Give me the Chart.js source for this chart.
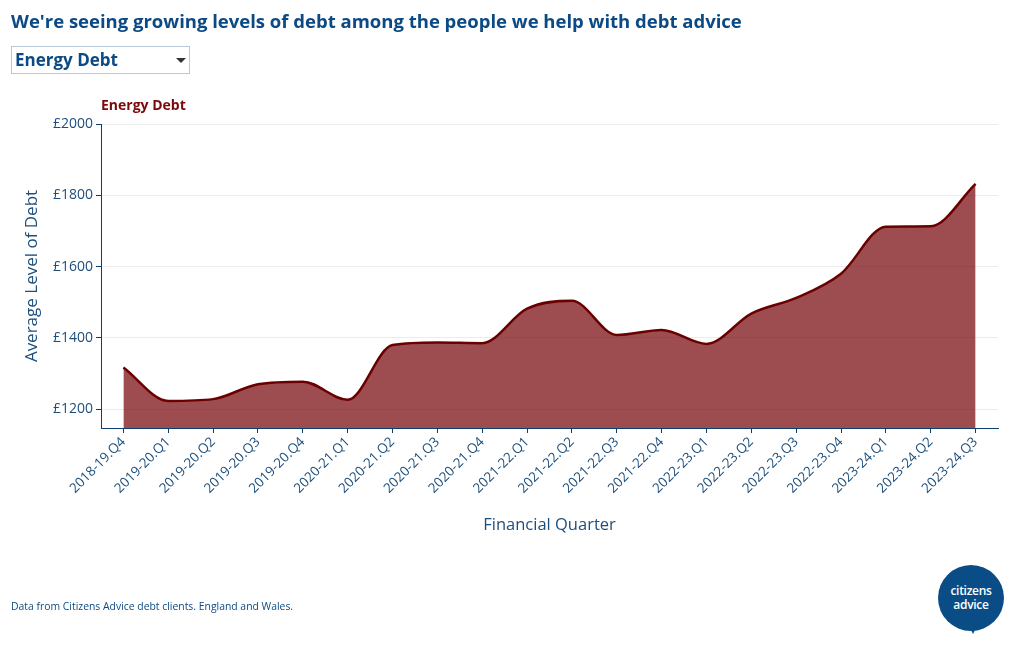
<!DOCTYPE html>
<html>
<head>
<meta charset="utf-8">
<script src="https://cdn.jsdelivr.net/npm/chart.js@4"></script>
<style>
  body { margin: 0; background: #fff; font-family: "Open Sans", sans-serif; }
  #wrap { position: relative; width: 1020px; height: 650px; overflow: hidden; }
  #title { position: absolute; left: 11px; top: 8px; font-size: 18.5px; font-weight: 700; color: #0b4a84; white-space: nowrap; }
  #dropdown { position: absolute; left: 11px; top: 46px; width: 177px; height: 26px; border: 1px solid #b7c9d8; box-sizing: content-box; }
  #dropdown span { position: absolute; left: 3px; top: 1px; font-size: 17px; font-weight: 700; color: #0b4a84; }
  #dropdown i { position: absolute; left: 164px; top: 11px; width: 0; height: 0; border-left: 5px solid transparent; border-right: 5px solid transparent; border-top: 5px solid #333; }
  #series { position: absolute; left: 101px; top: 95px; font-size: 14px; font-weight: 700; color: #7a0a0a; }
  #note { position: absolute; left: 11px; top: 599px; font-size: 10.4px; color: #0b4a84; }
  #logo { position: absolute; left: 938px; top: 565px; width: 66px; height: 66px; border-radius: 50%; background: #0a4d86; color: #fff; text-align: center; font-size: 12px; font-weight: 600; line-height: 14px; font-family: "Open Sans", sans-serif; }
  #logo div { padding-top: 19px; letter-spacing: -0.3px; }
  #tail { position: absolute; left: 968px; top: 624px; width: 0; height: 0; border-left: 5px solid transparent; border-right: 5px solid transparent; border-top: 10px solid #0a4d86; }
  #chart { position: absolute; left: 0; top: 0; }
</style>
</head>
<body>
<div id="wrap">
  <canvas id="chart" width="1020" height="650"></canvas>
  <div id="title">We're seeing growing levels of debt among the people we help with debt advice</div>
  <div id="dropdown"><span>Energy Debt</span><i></i></div>
  <div id="series">Energy Debt</div>
  <div id="note">Data from Citizens Advice debt clients. England and Wales.</div>
  <div id="logo"><div>citizens<br>advice</div></div>
  <div id="tail"></div>
</div>
<script>
const quarters = [
    "2018-19.Q4",
    "2019-20.Q1", "2019-20.Q2", "2019-20.Q3", "2019-20.Q4",
    "2020-21.Q1", "2020-21.Q2", "2020-21.Q3", "2020-21.Q4",
    "2021-22.Q1", "2021-22.Q2", "2021-22.Q3", "2021-22.Q4",
    "2022-23.Q1", "2022-23.Q2", "2022-23.Q3", "2022-23.Q4",
    "2023-24.Q1", "2023-24.Q2", "2023-24.Q3"
];
const energyDebt = [
    1317,
    1223, 1228, 1270, 1277,
    1226, 1380, 1387, 1385,
    1482, 1504, 1408, 1422,
    1383, 1468, 1512, 1580,
    1712, 1713, 1832
];
const yTicks = [1200, 1400, 1600, 1800, 2000];

const axisBlue = "#0d3f6e";
const textBlue = "#1d4f7c";

new Chart(document.getElementById("chart"), {
    type: "line",
    data: {
        labels: quarters,
        datasets: [{
            label: "Energy Debt",
            data: energyDebt,
            borderColor: "#6b0000",
            backgroundColor: "rgba(115, 0, 5, 0.7)",
            fill: "start",
            cubicInterpolationMode: "monotone",
            borderWidth: 2.5,
            pointRadius: 0
        }]
    },
    options: {
        responsive: false,
        animation: false,
        layout: { padding: { left: 0, top: 124, right: 22, bottom: 115 } },
        plugins: {
            legend: { display: false },
            tooltip: { enabled: false }
        },
        scales: {
            y: {
                min: 1147,
                max: 2000,
                afterBuildTicks: function(scale) {
                    scale.ticks = yTicks.map(v => ({ value: v }));
                },
                afterFit: function(scale) { scale.width = 101; },
                border: { color: axisBlue, width: 1 },
                grid: { color: "#ececec", tickColor: axisBlue, tickLength: 5 },
                ticks: {
                    color: textBlue,
                    padding: 3,
                    font: { family: "Open Sans", size: 14 },
                    callback: v => "£" + v
                },
                title: {
                    display: true,
                    text: "Average Level of Debt",
                    color: textBlue,
                    font: { family: "Open Sans", size: 17 },
                    padding: { top: 22 }
                }
            },
            x: {
                offset: true,
                afterFit: function(scale) { scale.height = 107; },
                border: { color: axisBlue, width: 1 },
                grid: { drawOnChartArea: false, tickColor: axisBlue, tickLength: 5 },
                ticks: {
                    color: textBlue,
                    maxRotation: 45,
                    minRotation: 45,
                    padding: 1,
                    autoSkip: false,
                    font: { family: "Open Sans", size: 13.5 }
                },
                title: {
                    display: true,
                    text: "Financial Quarter",
                    color: textBlue,
                    font: { family: "Open Sans", size: 16.5 },
                    padding: { top: 0, bottom: 0 }
                }
            }
        }
    }
});
</script>
</body>
</html>
